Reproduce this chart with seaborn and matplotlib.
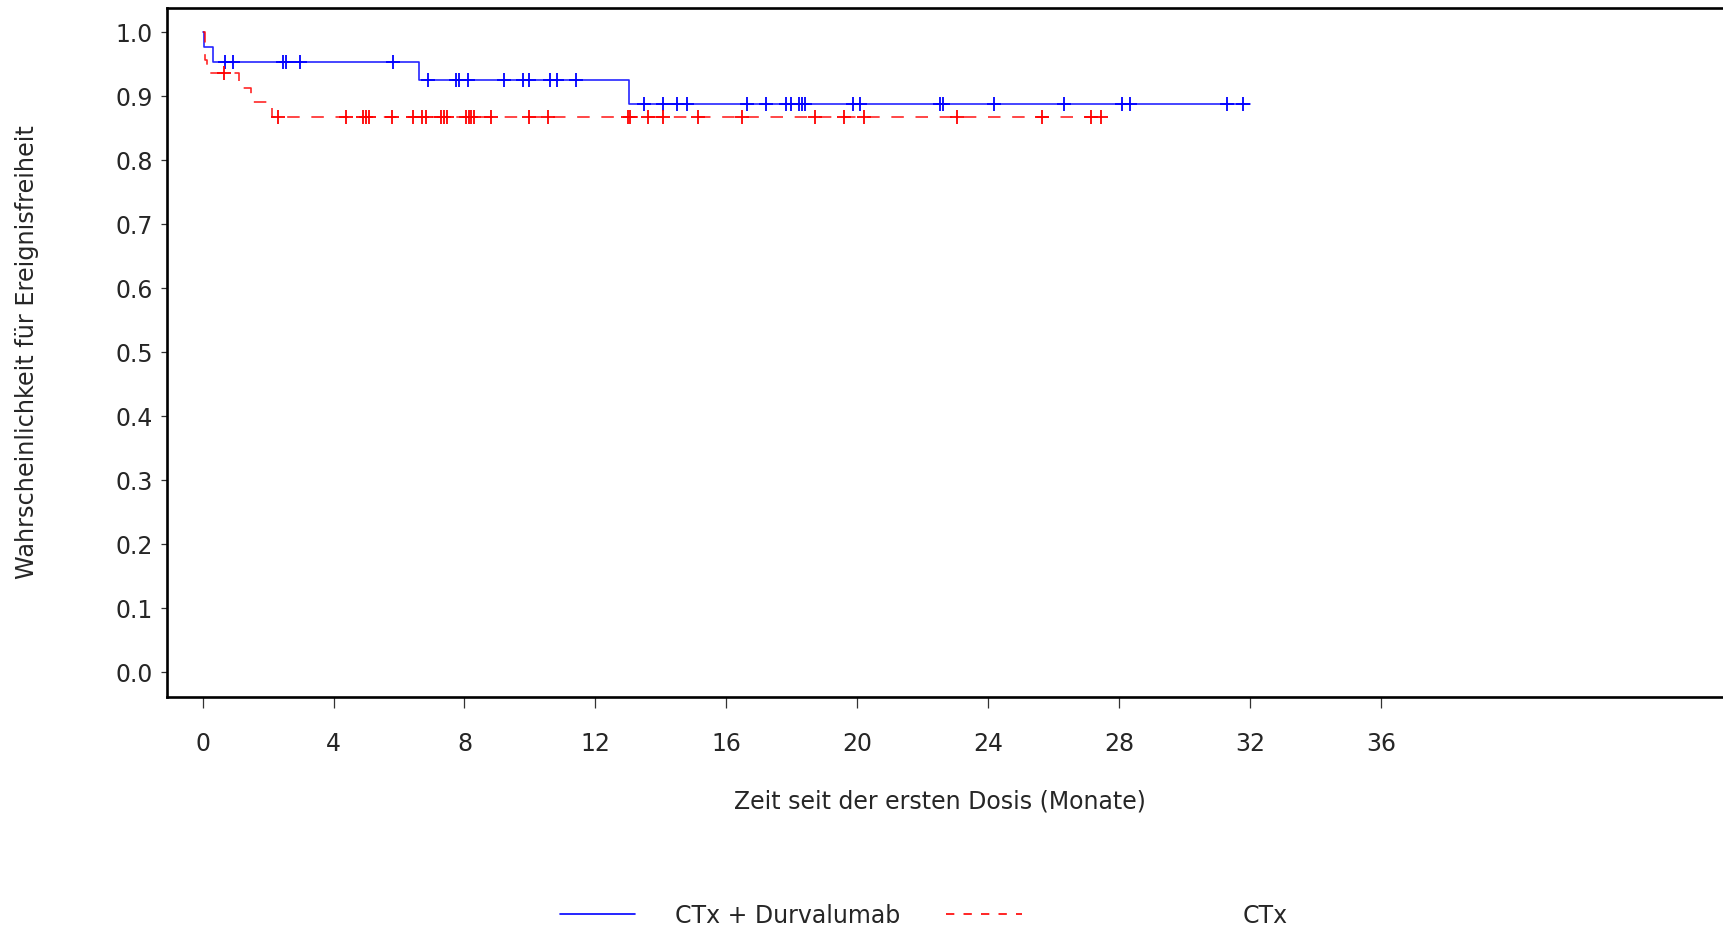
import numpy as np
import pandas as pd
import matplotlib
matplotlib.use("Agg")
import matplotlib.pyplot as plt
from matplotlib.lines import Line2D
import seaborn as sns

# ---------------- data ----------------
series_names = ["CTx + Durvalumab", "CTx"]

blue_times = [0.0, 0.04, 0.31, 6.62, 13.03, 32.0]
blue_surv = [1.0, 0.977, 0.954, 0.926, 0.888, 0.888]
blue_censor = [0.68, 0.93, 2.45, 2.54, 2.98, 5.81, 6.89, 7.73, 7.82, 8.10, 9.21,
               9.80, 9.97, 10.62, 10.84, 11.41, 13.48, 14.06, 14.50, 14.81, 16.64,
               17.22, 17.82, 17.97, 18.23, 18.31, 18.41, 19.87, 20.08, 22.52, 22.61,
               24.19, 26.31, 28.10, 28.35, 31.29, 31.79]

red_times = [0.0, 0.06, 0.14, 1.11, 1.48, 2.13, 27.67]
red_surv = [1.0, 0.957, 0.936, 0.9125, 0.8906, 0.868, 0.868]
red_censor = [0.64, 2.31, 4.38, 4.90, 4.99, 5.09, 5.77, 6.44, 6.69, 6.83, 7.29,
              7.37, 7.46, 8.05, 8.13, 8.21, 8.30, 8.81, 9.96, 10.55, 13.00, 13.07,
              13.62, 14.07, 15.14, 16.47, 18.71, 19.59, 20.20, 23.05, 25.65, 27.14,
              27.45]

x_ticks = [0, 4, 8, 12, 16, 20, 24, 28, 32, 36]
y_ticks = [0.0, 0.1, 0.2, 0.3, 0.4, 0.5, 0.6, 0.7, 0.8, 0.9, 1.0]

x_label = "Zeit seit der ersten Dosis (Monate)"
y_label = "Wahrscheinlichkeit für Ereignisfreiheit"

# ---------------- style ----------------
sns.set_style("ticks")
plt.rcParams["font.family"] = ["DejaVu Sans"]
FS = 17

W, H, DPI = 1723, 933, 100
fig = plt.figure(figsize=(W / DPI, H / DPI), dpi=DPI)
ax = fig.add_axes([167 / W, 1 - 697 / H, 1 - 167 / W + 0.002, (697 - 7.5) / H])

BLUE = "#0000FF"
RED = "#FF0000"


def surv_at(times, surv, t):
    idx = np.searchsorted(np.asarray(times), t, side="right") - 1
    return np.asarray(surv)[idx]


blue_df = pd.DataFrame({"t": blue_times, "s": blue_surv})
red_df = pd.DataFrame({"t": red_times, "s": red_surv})
blue_c = pd.DataFrame({"t": blue_censor, "s": surv_at(blue_times, blue_surv, blue_censor)})
red_c = pd.DataFrame({"t": red_censor, "s": surv_at(red_times, red_surv, red_censor)})

sns.lineplot(data=blue_df, x="t", y="s", drawstyle="steps-post", color=BLUE,
             linewidth=1.2, estimator=None, sort=False, ax=ax, alpha=0.85)
sns.lineplot(data=red_df, x="t", y="s", drawstyle="steps-post", color=RED,
             linewidth=1.2, estimator=None, sort=False, ax=ax, alpha=0.85,
             linestyle=(0, (7.5, 7)))
sns.scatterplot(data=blue_c, x="t", y="s", marker="+", s=110, color=BLUE,
                linewidth=1.3, ax=ax, zorder=3)
sns.scatterplot(data=red_c, x="t", y="s", marker="+", s=110, color=RED,
                linewidth=1.3, ax=ax, zorder=3)

ax.set_xlim(-1.09, 46.56)
ax.set_ylim(-0.0386, 1.0388)
ax.set_xticks(x_ticks)
ax.set_xticklabels([str(v) for v in x_ticks], fontsize=FS)
ax.set_yticks(y_ticks)
ax.set_yticklabels([f"{v:.1f}" for v in y_ticks], fontsize=FS)
ax.set_xlabel("")
ax.set_ylabel("")

for side in ["left", "top", "bottom"]:
    ax.spines[side].set_linewidth(1.9)
    ax.spines[side].set_color("black")
ax.spines["right"].set_visible(False)
ax.tick_params(axis="x", length=8, width=0.9, color="#333333", pad=17)
ax.tick_params(axis="y", length=4, width=0.9, color="#333333", pad=6)

fig.text(940 / W, 1 - 801 / H, x_label, fontsize=FS, ha="center", va="center")
fig.text(27 / W, 1 - 352 / H, y_label, fontsize=FS + 0.3, ha="center", va="center",
         rotation=90)

# legend (manual, matching reference layout)
ly = 1 - 914 / H
fig.add_artist(Line2D([560 / W, 635 / W], [ly, ly], color=BLUE, linewidth=1.2,
                      transform=fig.transFigure))
fig.text(675 / W, 1 - 916 / H, series_names[0], fontsize=FS, ha="left", va="center")
fig.add_artist(Line2D([946 / W, 1022 / W], [ly, ly], color=RED, linewidth=1.2,
                      linestyle=(0, (5, 5.5)), transform=fig.transFigure))
fig.text(1243 / W, 1 - 916 / H, series_names[1], fontsize=FS, ha="left", va="center")

fig.savefig("out.png", dpi=DPI)
